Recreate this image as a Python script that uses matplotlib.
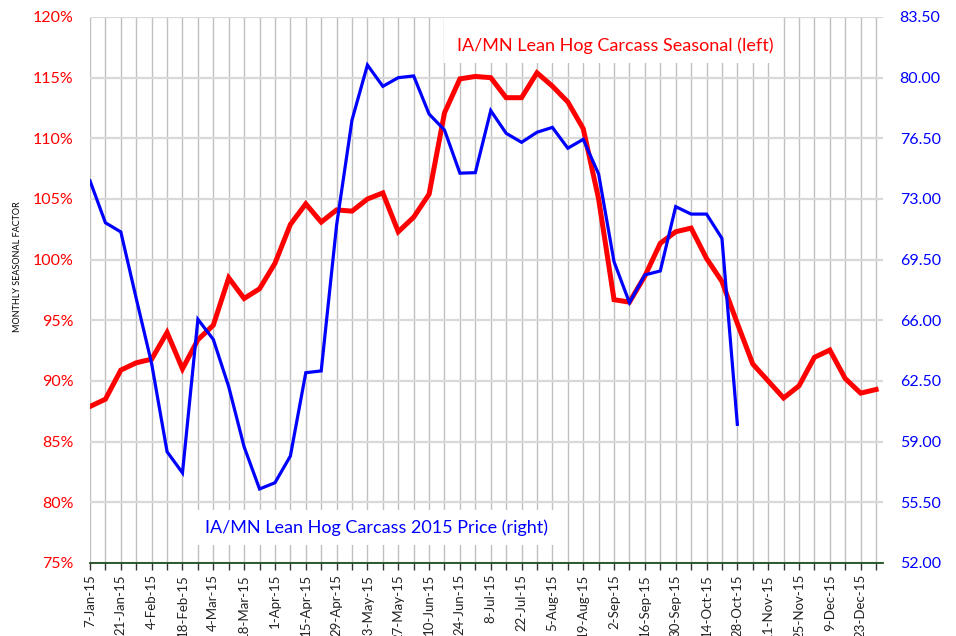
import matplotlib
matplotlib.use("Agg")
import matplotlib.pyplot as plt
from matplotlib.patches import Rectangle
import pandas as pd

plt.rcParams['font.family'] = ['Lato', 'DejaVu Sans']

weeks = pd.date_range('2015-01-07', periods=52, freq='7D')
week_labels = [f"{d.day}-{d.strftime('%b')}-15" for d in weeks]

seasonal = [87.9, 88.5, 90.9, 91.5, 91.8, 94.0, 91.0, 93.4, 94.6, 98.5,
            96.8, 97.6, 99.7, 102.9, 104.6, 103.1, 104.1, 104.0, 105.0, 105.5,
            102.3, 103.5, 105.4, 112.1, 114.9, 115.1, 115.0, 113.35, 113.35, 115.4,
            114.3, 113.0, 110.8, 105.0, 96.7, 96.5, 98.65, 101.35, 102.3, 102.6,
            100.1, 98.2, 94.75, 91.4, 90.0, 88.6, 89.6, 91.95, 92.55, 90.2,
            89.0, 89.3]

price = [74.05, 71.63, 71.1, 67.26, 63.5, 58.42, 57.2, 66.06, 64.9, 62.17,
         58.7, 56.27, 56.63, 58.17, 62.98, 63.08, 71.5, 77.56, 80.73, 79.5,
         80.0, 80.1, 77.9, 76.98, 74.49, 74.52, 78.1, 76.79, 76.27, 76.85,
         77.13, 75.93, 76.44, 74.44, 69.38, 67.02, 68.62, 68.85, 72.56, 72.13,
         72.13, 70.73, 60.0]

left_ticks = [75, 80, 85, 90, 95, 100, 105, 110, 115, 120]
right_ticks = [52.0, 55.5, 59.0, 62.5, 66.0, 69.5, 73.0, 76.5, 80.0, 83.5]

fig = plt.figure(figsize=(9.56, 6.36), dpi=100)
ax = fig.add_axes([90/956, 1-563/636, 793/956, 546/636])
ax2 = ax.twinx()

x_s = list(range(len(seasonal)))
x_p = list(range(len(price)))

ax.plot(x_s, seasonal, color='#ff0000', lw=3.6, solid_joinstyle='miter', zorder=3)
ax2.plot(x_p, price, color='#0000ff', lw=2.3, solid_joinstyle='miter', zorder=3)

ax.set_xlim(0, 51.45)
ax.set_ylim(75, 120)
ax2.set_ylim(52, 83.5)

ax.set_yticks(left_ticks)
ax.set_yticklabels([f"{v}%" for v in left_ticks], color='#ff0000', fontsize=11.5)
ax2.set_yticks(right_ticks)
ax2.set_yticklabels([f"{v:.2f}" for v in right_ticks], color='#0000ff', fontsize=11.5)
ax.tick_params(axis='y', length=0, pad=12)
ax2.tick_params(axis='y', length=0, pad=12)

ax.set_xticks(x_s)
ax.set_xticklabels([lab if i % 2 == 0 else '' for i, lab in enumerate(week_labels)],
                   rotation=90, fontsize=9.5, color='#222222')
ax.tick_params(axis='x', direction='out', length=5, width=1, color='#333333', pad=3)

ax.set_axisbelow(True)
ax.grid(axis='x', color='#c0c0c0', lw=1.0)
ax.grid(axis='y', color='#d9d9d9', lw=1.6)

for sp in ['top', 'right', 'left']:
    ax.spines[sp].set_visible(False)
    ax2.spines[sp].set_visible(False)
ax.spines['bottom'].set_color('#1e4d1e')
ax.spines['bottom'].set_linewidth(1.3)
ax2.spines['bottom'].set_visible(False)

# text boxes
ax.add_patch(Rectangle((0.4464, 0.9158), 0.4275, 0.0824, transform=ax.transAxes,
                       facecolor='white', edgecolor='none', zorder=2))
ax.text(0.662, 0.947, 'IA/MN Lean Hog Carcass Seasonal (left)', transform=ax.transAxes,
        color='#ff0000', fontsize=13, ha='center', va='center', zorder=2.5)
ax.add_patch(Rectangle((0.1337, 0.033), 0.4527, 0.0641, transform=ax.transAxes,
                       facecolor='white', edgecolor='none', zorder=2))
ax.text(0.3607, 0.0641, 'IA/MN Lean Hog Carcass 2015 Price (right)', transform=ax.transAxes,
        color='#0000ff', fontsize=13, ha='center', va='center', zorder=2.5)

fig.text(18/956, 1-267/636, 'MONTHLY SEASONAL FACTOR', rotation=90, fontsize=6.5,
         ha='center', va='center', color='black')

fig.savefig('out.png', dpi=100)
